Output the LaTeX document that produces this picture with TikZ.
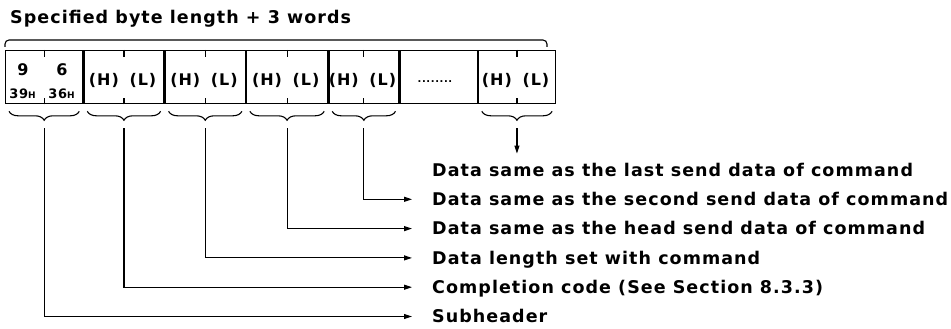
\documentclass[tikz,border=0pt]{standalone}
\usepackage{fontspec}
\setmainfont{DejaVu Sans}[LetterSpace=6]
\usetikzlibrary{arrows.meta, decorations.pathreplacing}

\begin{document}
\begin{tikzpicture}[x=1pt, y=-1pt,
    every node/.style={inner sep=0pt, font=\fontsize{17.5}{18}\selectfont\bfseries},
    cellbox/.style={draw, line width=1.3pt, minimum height=53pt, anchor=north west},
    byte/.style={font=\fontsize{16}{16}\selectfont\bfseries},
    ubrace/.style={decorate, decoration={brace, amplitude=9pt, mirror}, line width=1.1pt},
    feed/.style={-{Triangle[length=8pt, width=5pt]}, line width=1.1pt, shorten <=8pt},
    fieldtext/.style={anchor=west, text height=12.5pt, text depth=0pt}]

  \useasboundingbox (0,0) rectangle (951,329);

  \node[fieldtext] (title) at (10,17.5) {Specified byte length + 3 words};
  \draw[line width=1.1pt, rounded corners=4pt] (5,47) -- (5,40) -- (547,40) -- (547,47);

  % the response frame
  \node[cellbox, minimum width=77pt] (sub) at (5,50) {};
  \node[cellbox, minimum width=80pt] (comp) at (sub.north east) {};
  \node[cellbox, minimum width=80pt] (dlen) at (comp.north east) {};
  \node[cellbox, minimum width=81pt] (head) at (dlen.north east) {};
  \node[cellbox, minimum width=70pt] (second) at (head.north east) {};
  \node[cellbox, minimum width=77pt] (dots) at (second.north east) {};
  \node[cellbox, minimum width=77pt] (last) at (dots.north east) {};

  \node[byte] (nine) at (23,70) {9};
  \node[byte] (six) at (62,70) {6};
  \node (hexnine) at (22.5,93.5) {\fontsize{13}{13}\selectfont 39{\fontsize{9}{9}\selectfont H}};
  \node (hexsix) at (61.5,93.5) {\fontsize{13}{13}\selectfont 36{\fontsize{9}{9}\selectfont H}};
  \node[font=\fontsize{10}{10}\selectfont\bfseries] (dotrow) at (435,82) {........};

  \foreach \c in {sub,comp,dlen,head,second,last} {
    \draw[line width=1.1pt] (\c.north) -- ++(0,7);
    \draw[line width=1.1pt] (\c.south) -- ++(0,-6);
    \draw[ubrace] ([xshift=4pt, yshift=-7pt]\c.south west) -- ([xshift=-4pt, yshift=-7pt]\c.south east);
    \coordinate (\c tip) at ([yshift=-16pt]\c.south);
  }
  \foreach \c in {comp,dlen,head,second,last} {
    \node[byte, xshift=-20pt, yshift=-3.5pt] (\c H) at (\c.center) {(H)};
    \node[byte, xshift=19pt, yshift=-3.5pt] (\c L) at (\c.center) {(L)};
  }

  % what each field holds
  \node[fieldtext] (lastlbl) at (432,170) {Data same as the last send data of command};
  \node[fieldtext] (secondlbl) at (432,199.3) {Data same as the second send data of command};
  \node[fieldtext] (headlbl) at (432,228.6) {Data same as the head send data of command};
  \node[fieldtext] (dlenlbl) at (432,257.9) {Data length set with command};
  \node[fieldtext] (complbl) at (432,287.2) {Completion code (See Section 8.3.3)};
  \node[fieldtext] (sublbl) at (432,316.5) {Subheader};

  \draw[feed, shorten >=10pt] (lasttip) -- (lasttip |- lastlbl.north);
  \draw[feed, shorten >=20pt] (secondtip) |- (secondlbl.west);
  \draw[feed, shorten >=20pt] (headtip) |- (headlbl.west);
  \draw[feed, shorten >=20pt] (dlentip) |- (dlenlbl.west);
  \draw[feed, shorten >=20pt] (comptip) |- (complbl.west);
  \draw[feed, shorten >=20pt] (subtip) |- (sublbl.west);
\end{tikzpicture}
\end{document}
